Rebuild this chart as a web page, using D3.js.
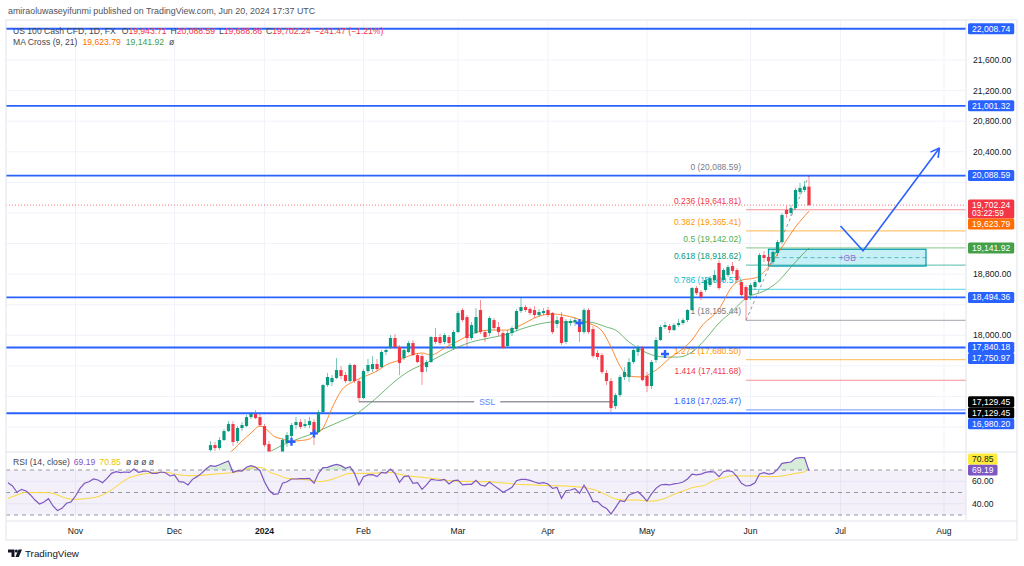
<!DOCTYPE html>
<html>
<head>
<meta charset="utf-8">
<script src="https://cdn.jsdelivr.net/npm/d3@7"></script>
<style>
  body { margin: 0; background: #fff; }
  svg { display: block; font-family: "Liberation Sans", Arial, sans-serif; }
</style>
</head>
<body>
<svg id="chart" width="1024" height="566"></svg>
<script>
// ---- data ----
const closedDays = ['2023-12-25', '2024-01-01', '2024-03-29'];
const monthKeys = ['2023-11', '2023-12', '2024-01', '2024-02', '2024-03', '2024-04', '2024-05', '2024-06', '2024-07', '2024-08'];
const monthLabels = ['Nov', 'Dec', '2024', 'Feb', 'Mar', 'Apr', 'May', 'Jun', 'Jul', 'Aug'];

const priceTicks = [16800, 17200, 17600, 18000, 18400, 18800, 19200, 19600, 20000, 20400, 20800, 21200, 21600];
const rsiTicks = [40, 60];

// daily candles [open, high, low, close] from 2023-12-13
const candleStart = '2023-12-13';
const ohlc = [
  [16499, 16617, 16460, 16564], [16564, 16604, 16486, 16525], [16525, 16669, 16499, 16630],
  [16630, 16773, 16617, 16747], [16747, 16878, 16734, 16839], [16839, 16878, 16551, 16604],
  [16617, 16813, 16590, 16787], [16787, 16865, 16747, 16826], [16813, 16957, 16800, 16930],
  [16930, 16996, 16904, 16970], [16970, 17022, 16904, 16917], [16930, 16970, 16800, 16826],
  [16813, 16839, 16538, 16564], [16577, 16617, 16368, 16433], [16420, 16473, 16290, 16342],
  [16342, 16433, 16211, 16355], [16368, 16656, 16355, 16630], [16591, 16734, 16538, 16695],
  [16682, 16852, 16656, 16826], [16826, 16930, 16773, 16865], [16865, 16904, 16773, 16800],
  [16813, 16904, 16787, 16839], [16826, 16930, 16787, 16878], [16865, 16904, 16564, 16708],
  [16734, 17022, 16721, 16996], [16996, 17362, 16983, 17349], [17349, 17506, 17323, 17454],
  [17388, 17480, 17336, 17441], [17441, 17702, 17428, 17545], [17545, 17598, 17428, 17467],
  [17480, 17519, 17375, 17401], [17401, 17637, 17388, 17611], [17611, 17624, 17375, 17401],
  [17401, 17427, 17129.45, 17179], [17179, 17558, 17166, 17532], [17532, 17690, 17506, 17611],
  [17558, 17728, 17519, 17624], [17624, 17690, 17532, 17558], [17584, 17807, 17571, 17781],
  [17781, 17846, 17741, 17807], [17846, 18003, 17820, 17964], [17964, 18016, 17820, 17846],
  [17846, 17872, 17480, 17637], [17702, 17833, 17676, 17807], [17781, 17925, 17768, 17898],
  [17898, 17938, 17728, 17741], [17741, 17768, 17637, 17650], [17728, 17755, 17349, 17519],
  [17584, 17676, 17519, 17650], [17650, 17990, 17637, 17977], [17977, 18094, 17885, 17912],
  [17977, 18016, 17872, 17898], [17912, 18029, 17885, 18003], [17977, 18003, 17872, 17898],
  [17833, 18068, 17807, 18042], [18042, 18317, 18029, 18291], [18330, 18356, 18173, 18199],
  [18238, 18265, 17846, 17964], [17964, 18173, 17938, 18134], [18029, 18356, 18016, 18238],
  [18330, 18461, 18016, 18042], [18042, 18068, 17912, 17977], [18029, 18252, 17990, 18225],
  [18199, 18225, 18068, 18095], [18108, 18173, 17990, 18042], [18029, 18055, 17820, 17833],
  [17859, 18068, 17833, 18029], [18029, 18121, 17990, 18095], [18081, 18343, 18055, 18317],
  [18317, 18500, 18291, 18369], [18369, 18395, 18304, 18330], [18343, 18369, 18265, 18291],
  [18330, 18382, 18225, 18265], [18265, 18343, 18238, 18304], [18291, 18356, 18265, 18317],
  [18330, 18369, 18238, 18265], [18291, 18304, 18016, 18042], [18147, 18252, 18095, 18199],
  [18238, 18304, 17872, 17898], [17912, 18212, 17885, 18186], [18160, 18212, 18121, 18186],
  [18173, 18238, 18121, 18199], [18173, 18199, 17912, 18042], [18042, 18356, 18016, 18330],
  [18330, 18356, 18016, 18042], [18081, 18121, 17702, 17728], [17768, 17807, 17676, 17715],
  [17741, 17768, 17493, 17519], [17506, 17545, 17349, 17401], [17401, 17440, 16996, 17048],
  [17074, 17244, 17035, 17218], [17218, 17480, 17192, 17454], [17454, 17584, 17414, 17519],
  [17454, 17702, 17388, 17650], [17650, 17833, 17624, 17807], [17781, 17872, 17728, 17833],
  [17833, 17859, 17401, 17414], [17467, 17519, 17257, 17336], [17336, 17676, 17297, 17650],
  [17676, 17977, 17637, 17938], [17938, 18134, 17925, 18108], [18108, 18173, 18081, 18134],
  [18121, 18147, 18029, 18068], [18068, 18160, 18055, 18134], [18134, 18212, 18108, 18160],
  [18160, 18225, 18134, 18199], [18199, 18343, 18173, 18330], [18330, 18631, 18317, 18618],
  [18618, 18644, 18526, 18552], [18566, 18592, 18461, 18500], [18592, 18761, 18566, 18722],
  [18657, 18774, 18631, 18748], [18722, 18853, 18696, 18788], [18945, 18984, 18592, 18618],
  [18722, 18879, 18696, 18853], [18788, 18919, 18761, 18892], [18906, 18958, 18801, 18840],
  [18853, 18879, 18696, 18722], [18696, 18722, 18500, 18526], [18631, 18657, 18195.44, 18461],
  [18526, 18683, 18461, 18657], [18631, 18722, 18592, 18696], [18696, 19076, 18683, 19049],
  [19049, 19102, 18958, 19010], [19023, 19062, 18919, 18971], [18958, 19115, 18932, 19089],
  [19076, 19246, 19036, 19219], [19219, 19599, 19193, 19573], [19638, 19690, 19534, 19586],
  [19599, 19703, 19560, 19664], [19664, 19926, 19638, 19900], [19873, 19991, 19834, 19926],
  [19900, 20017, 19873, 19943.71], [19943.71, 20088.59, 19688.86, 19702.24],
];

// MA Cross (9, 21), read at bar offsets from 2023-11-01
const ma9Bars = [33, 35, 37, 39, 41, 43, 44, 46, 48, 50, 52, 53, 55, 57, 59, 62, 65, 67, 69, 72, 74, 77, 79, 82, 85, 88, 92, 96, 99, 103, 106, 111, 114, 117, 119, 121, 123, 126, 128, 130, 132, 134, 137, 139, 143, 146, 148, 151, 154, 157, 160, 163];
const ma9Vals = [16420, 16499, 16617, 16721, 16813, 16740, 16682, 16643, 16617, 16623, 16643, 16695, 16787, 17048, 17271, 17401, 17480, 17532, 17611, 17676, 17728, 17768, 17741, 17833, 17925, 18016, 18068, 18068, 18134, 18251, 18278, 18225, 18160, 18055, 17846, 17598, 17467, 17454, 17506, 17590, 17700, 17781, 17938, 18108, 18343, 18644, 18722, 18749, 18892, 19154, 19416, 19623.79];
const ma21Bars = [41, 43, 46, 50, 53, 56, 59, 62, 65, 68, 71, 75, 78, 81, 85, 88, 92, 96, 99, 103, 106, 111, 114, 118, 120, 123, 127, 131, 134, 137, 140, 143, 146, 149, 153, 156, 159, 161, 163];
const ma21Vals = [16430, 16473, 16564, 16656, 16721, 16800, 16878, 16957, 17087, 17240, 17400, 17560, 17637, 17728, 17846, 17912, 17964, 18016, 18081, 18147, 18173, 18173, 18173, 18108, 18068, 17912, 17768, 17715, 17715, 17781, 17951, 18160, 18317, 18487, 18578, 18696, 18892, 19023, 19141.92];
const crossBars = [48, 53, 112, 131];
const crossVals = [16607, 16717, 18160, 17755];

// RSI (14, close), one value per bar from 2023-10-11
const rsiStart = '2023-10-11';
const rsi = [
  58.7, 55.8, 50.2, 52.8, 51.3, 47.8, 43.3, 39.8, 41.6, 44.5, 38.0, 33.9, 35.9, 40.4, 41.6,
  46.9, 53.7, 58.2, 59.6, 62.0, 61.1, 58.7, 62.6, 67.0, 68.5, 67.6, 68.2, 67.9, 70.9, 67.9,
  68.8, 69.1, 67.0, 67.0, 68.2, 67.6, 64.7, 65.6, 59.6, 59.3, 56.7, 61.7, 64.1, 67.0, 70.9,
  73.9, 73.3, 74.7, 76.5, 78.0, 67.9, 69.4, 69.1, 72.4, 73.9, 72.7, 69.4, 59.6, 52.2, 48.4,
  48.7, 58.2, 59.6, 62.0, 62.0, 62.3, 62.3, 62.6, 58.2, 67.0, 72.1, 72.4, 73.9, 75.0, 73.9,
  71.5, 73.0, 67.0, 56.7, 64.1, 65.6, 65.9, 64.1, 67.9, 67.3, 70.9, 67.0, 59.0, 64.1, 64.7,
  58.2, 58.7, 52.8, 56.7, 61.7, 61.1, 60.8, 61.7, 57.6, 60.5, 61.0, 56.7, 57.3, 57.3, 60.8,
  56.7, 55.8, 59.3, 56.1, 53.4, 50.2, 52.2, 54.6, 60.5,
  61.7, 61.7, 60.8, 59.3, 58.2, 58.7, 57.6, 53.7, 54.6, 44.8, 51.6, 52.2, 53.4, 49.3, 56.4,
  49.9, 41.9, 41.9, 38.0, 35.9, 30.9, 36.5, 42.7, 41.9, 47.8, 49.3, 50.7, 46.9, 42.4, 48.7,
  53.7, 56.7, 57.3, 56.7, 57.6, 58.2, 59.3, 62.0, 66.4, 65.6, 66.4, 67.9, 68.5, 68.2, 64.1,
  68.5, 69.4, 68.5, 64.1, 58.2, 55.8, 56.4, 58.7, 66.4, 67.6, 66.4, 67.0, 70.6, 75.9, 76.5,
  77.1, 80.4, 81.0, 81.0, 69.19,
];
const rsiMaBars = [-15, -13, -11, -9, -6, -4, -2, 0, 2, 5, 7, 9, 11, 14, 16, 18, 20, 22, 25, 27, 29, 31, 34, 36, 38, 40, 42, 43, 45, 47, 50, 53, 54, 57, 59, 61, 63, 65, 68, 70, 72, 74, 77, 79, 81, 83, 85, 88, 90, 92, 94, 96, 98, 102, 105, 109, 111, 114, 116, 118, 120, 122, 125, 127, 128, 131, 133, 135, 137, 140, 142, 144, 146, 148, 151, 153, 155, 157, 160, 162, 163];
const rsiMaVals = [44.8, 47.8, 50.2, 49.9, 49.9, 47.8, 44.8, 43.9, 44.5, 46.3, 49.9, 55.2, 61.1, 65.6, 67.0, 67.9, 67.9, 66.4, 65.0, 65.0, 65.6, 66.4, 67.3, 68.5, 70.6, 72.4, 71.5, 68.5, 65.6, 62.6, 61.7, 60.5, 59.6, 61.7, 64.7, 67.0, 67.0, 67.0, 67.6, 67.9, 66.1, 64.7, 63.5, 62.6, 61.7, 60.5, 59.9, 59.9, 59.6, 59.6, 58.7, 58.2, 57.3, 56.7, 56.1, 55.8, 55.2, 53.7, 51.6, 47.8, 44.2, 43.3, 43.3, 42.4, 42.4, 44.8, 48.4, 51.3, 54.3, 56.7, 61.1, 63.2, 65.0, 64.7, 64.7, 64.1, 64.1, 64.7, 67.0, 68.5, 70.85];

// drawings
const hLines = [22008.74, 21001.32, 20088.59, 18494.36, 17840.18, 16980.20];
const fibBars = [149, 163];
const fibPrices = [18195.44, 20088.59];
const fibLevels = [0, 0.236, 0.382, 0.5, 0.618, 0.786, 1, 1.272, 1.414, 1.618];
const sslBars = [63, 120];
const sslPrice = 17129.45;
const obBars = [154, 189];
const obPrices = [19125, 18905];
const arrowBars = [170, 175, 192];
const arrowPrices = [19430, 19105, 20450];
const tags = [
  [22008.74, 'line'], [21001.32, 'line'], [20088.59, 'line'], [19702.24, 'last'],
  [19623.79, 'ma9'], [19141.92, 'ma21'], [18494.36, 'line'], [17840.18, 'line'],
  [17750.97, 'line'], [17129.45, 'mark'], [17129.45, 'mark'], [16980.20, 'line'],
];
const countdown = '03:22:59';

// ---- layout ----
const frame = { left: 6, right: 1017, top: 20, bottom: 540 };
const plotRight = 966;
const mainPane = { top: 20, bottom: 452 };
const rsiPane = { top: 452, bottom: 521 };
const up = '#089981';
const down = '#f23645';
const fibColors = ['#787b86', '#f23645', '#ff9800', '#4caf50', '#089981', '#00bcd4', '#787b86', '#ff9800', '#f23645', '#2962ff'];
const tagStyle = {
  line: ['#2962ff', '#fff'], last: ['#f23645', '#fff'], ma9: ['#ff6d00', '#fff'],
  ma21: ['#43a047', '#fff'], mark: ['#000', '#fff'],
};
const fmt = d3.format(',.2f');
// round half-up to cents, like the platform's labels
const cents = (v) => Math.round(v * 100 + 0.01) / 100;

const tradingDays = (from, to) => {
  const out = [];
  const end = new Date(to + 'T00:00:00Z');
  for (let d = new Date(from + 'T00:00:00Z'); d <= end; d.setUTCDate(d.getUTCDate() + 1)) {
    const iso = d.toISOString().slice(0, 10);
    const wd = d.getUTCDay();
    if (wd > 0 && wd < 6 && !closedDays.includes(iso)) out.push(iso);
  }
  return out;
};
const days = tradingDays('2023-10-02', '2024-08-30');
const zero = days.indexOf('2023-11-01');
const bar = (iso) => days.indexOf(iso) - zero;
const monthBars = monthKeys.map((k) => days.findIndex((d) => d.startsWith(k)) - zero);

const x = d3.scaleLinear().domain([0, 193]).range([75.5, 944]);
const y = d3.scaleLinear().domain([18800, 21600]).range([274.1, 60]);
const yr = d3.scaleLinear().domain([30, 70]).range([515, 470]);

const svg = d3.select('#chart');
const defs = svg.append('defs');
defs.append('clipPath').attr('id', 'clipMain').append('rect')
  .attr('x', frame.left).attr('y', mainPane.top)
  .attr('width', plotRight - frame.left).attr('height', mainPane.bottom - mainPane.top);
defs.append('clipPath').attr('id', 'clipRsi').append('rect')
  .attr('x', frame.left).attr('y', rsiPane.top)
  .attr('width', plotRight - frame.left).attr('height', rsiPane.bottom - rsiPane.top);

const txt = (g, tx, ty, s, o = {}) => g.append('text')
  .attr('x', tx).attr('y', ty).attr('dy', '0.35em')
  .attr('font-size', o.size || 8.6)
  .attr('fill', o.fill || '#131722')
  .attr('text-anchor', o.anchor || 'start')
  .attr('font-weight', o.weight || null)
  .text(s);

// ---- grid ----
const grid = svg.append('g').attr('stroke', '#f0f3fa').attr('stroke-width', 1);
monthBars.forEach((b) => grid.append('line')
  .attr('x1', x(b)).attr('x2', x(b)).attr('y1', frame.top).attr('y2', rsiPane.bottom));
priceTicks.forEach((p) => grid.append('line')
  .attr('x1', frame.left).attr('x2', plotRight).attr('y1', y(p)).attr('y2', y(p)));
rsiTicks.forEach((v) => grid.append('line')
  .attr('x1', frame.left).attr('x2', plotRight).attr('y1', yr(v)).attr('y2', yr(v)));

// ---- main pane ----
const main = svg.append('g').attr('clip-path', 'url(#clipMain)');

// fib retracement / extension
const fibRange = fibPrices[1] - fibPrices[0];
const fibX0 = x(fibBars[0]);
fibLevels.forEach((lvl, i) => {
  const p = fibPrices[1] - lvl * fibRange;
  main.append('line')
    .attr('x1', fibX0).attr('x2', plotRight).attr('y1', y(p)).attr('y2', y(p))
    .attr('stroke', fibColors[i]).attr('stroke-opacity', 0.55).attr('stroke-width', 1.2);
  txt(main, fibX0 - 5, y(p) - 9, `${lvl} (${fmt(cents(p))})`, { anchor: 'end', fill: fibColors[i], size: 8.5 });
});
main.append('line')
  .attr('x1', x(fibBars[0])).attr('y1', y(fibPrices[0]))
  .attr('x2', x(fibBars[1])).attr('y2', y(fibPrices[1]))
  .attr('stroke', '#9598a1').attr('stroke-dasharray', '3 3');

// SSL
const sslMid = (x(sslBars[0]) + x(sslBars[1])) / 2;
const sslText = txt(main, sslMid, y(sslPrice), 'SSL', { anchor: 'middle', fill: '#5d83ff', size: 8.5 });
const gap = sslText.node().getComputedTextLength() / 2 + 5;
[[x(sslBars[0]), sslMid - gap], [sslMid + gap, x(sslBars[1])]].forEach(([a, b]) => main.append('line')
  .attr('x1', a).attr('x2', b).attr('y1', y(sslPrice)).attr('y2', y(sslPrice))
  .attr('stroke', '#9598a1').attr('stroke-width', 1.5));

// order block
const obTop = y(obPrices[0]);
const obBottom = y(obPrices[1]);
main.append('rect')
  .attr('x', x(obBars[0])).attr('y', obTop)
  .attr('width', x(obBars[1]) - x(obBars[0])).attr('height', obBottom - obTop)
  .attr('fill', 'rgba(0,188,212,0.22)').attr('stroke', '#0097a7').attr('stroke-width', 1.2);
main.append('line')
  .attr('x1', x(obBars[0])).attr('x2', x(obBars[1]))
  .attr('y1', (obTop + obBottom) / 2).attr('y2', (obTop + obBottom) / 2)
  .attr('stroke', '#0097a7').attr('stroke-opacity', 0.6).attr('stroke-dasharray', '4 3');
txt(main, (x(obBars[0]) + x(obBars[1])) / 2, (obTop + obBottom) / 2, '+OB', { anchor: 'middle', fill: '#a36ad6', size: 8.5 });

// horizontal levels
hLines.forEach((p) => main.append('line')
  .attr('x1', frame.left).attr('x2', plotRight).attr('y1', y(p)).attr('y2', y(p))
  .attr('stroke', '#2962ff').attr('stroke-width', 1.8));

// moving averages
const maLine = d3.line().x((d) => x(d[0])).y((d) => y(d[1])).curve(d3.curveMonotoneX);
main.append('path').datum(d3.zip(ma21Bars, ma21Vals)).attr('d', maLine)
  .attr('fill', 'none').attr('stroke', '#43a047').attr('stroke-opacity', 0.75).attr('stroke-width', 1);
main.append('path').datum(d3.zip(ma9Bars, ma9Vals)).attr('d', maLine)
  .attr('fill', 'none').attr('stroke', '#ff6d00').attr('stroke-opacity', 0.8).attr('stroke-width', 1);

// candles
const c0 = bar(candleStart);
const candles = main.append('g');
ohlc.forEach(([o, h, l, c], i) => {
  const cx = x(c0 + i);
  const col = c >= o ? up : down;
  candles.append('line').attr('x1', cx).attr('x2', cx).attr('y1', y(h)).attr('y2', y(l))
    .attr('stroke', col).attr('stroke-opacity', 0.55);
  candles.append('rect')
    .attr('x', cx - 1.6).attr('width', 3.2)
    .attr('y', Math.min(y(o), y(c))).attr('height', Math.max(1, Math.abs(y(o) - y(c))))
    .attr('fill', col);
});

// MA cross markers
crossBars.forEach((b, i) => {
  const cx = x(b);
  const cy = y(crossVals[i]);
  main.append('path').attr('d', `M${cx - 4},${cy}H${cx + 4}M${cx},${cy - 4}V${cy + 4}`)
    .attr('stroke', '#2962ff').attr('stroke-width', 2.4);
});

// projection arrow
const pts = arrowBars.map((b, i) => [x(b), y(arrowPrices[i])]);
main.append('path').attr('d', d3.line()(pts))
  .attr('fill', 'none').attr('stroke', '#2962ff').attr('stroke-width', 1.6);
const [ax, ay] = pts[pts.length - 1];
const [bx, by] = pts[pts.length - 2];
const ang = Math.atan2(ay - by, ax - bx);
[-0.5, 0.5].forEach((da) => main.append('line')
  .attr('x1', ax).attr('y1', ay)
  .attr('x2', ax - 10 * Math.cos(ang + da)).attr('y2', ay - 10 * Math.sin(ang + da))
  .attr('stroke', '#2962ff').attr('stroke-width', 1.6));

// last price line
const last = ohlc[ohlc.length - 1];
main.append('line')
  .attr('x1', frame.left).attr('x2', plotRight).attr('y1', y(last[3])).attr('y2', y(last[3]))
  .attr('stroke', down).attr('stroke-opacity', 0.7).attr('stroke-dasharray', '1 2');

// ---- RSI pane ----
const rp = svg.append('g').attr('clip-path', 'url(#clipRsi)');
rp.append('rect')
  .attr('x', frame.left).attr('width', plotRight - frame.left)
  .attr('y', yr(70)).attr('height', yr(30) - yr(70))
  .attr('fill', 'rgba(126,87,194,0.09)');
[70, 50, 30].forEach((v) => rp.append('line')
  .attr('x1', frame.left).attr('x2', plotRight).attr('y1', yr(v)).attr('y2', yr(v))
  .attr('stroke', '#9598a1').attr('stroke-dasharray', '4 4'));
const r0 = bar(rsiStart);
const rsiPts = rsi.map((v, i) => [r0 + i, v]);
rp.append('path').datum(rsiPts)
  .attr('d', d3.area().x((d) => x(d[0])).y0(yr(70)).y1((d) => yr(Math.max(70, d[1]))))
  .attr('fill', 'rgba(76,175,80,0.22)');
rp.append('path').datum(d3.zip(rsiMaBars, rsiMaVals))
  .attr('d', d3.line().x((d) => x(d[0])).y((d) => yr(d[1])).curve(d3.curveMonotoneX))
  .attr('fill', 'none').attr('stroke', '#fdd835').attr('stroke-width', 1);
rp.append('path').datum(rsiPts)
  .attr('d', d3.line().x((d) => x(d[0])).y((d) => yr(d[1])))
  .attr('fill', 'none').attr('stroke', '#7e57c2').attr('stroke-width', 1.2);

// ---- frame ----
const fr = svg.append('g').attr('stroke', '#e0e3eb').attr('fill', 'none');
fr.append('rect').attr('x', frame.left).attr('y', frame.top)
  .attr('width', frame.right - frame.left).attr('height', frame.bottom - frame.top);
[mainPane.bottom, rsiPane.bottom].forEach((v) => fr.append('line')
  .attr('x1', frame.left).attr('x2', frame.right).attr('y1', v).attr('y2', v));
fr.append('line').attr('x1', plotRight).attr('x2', plotRight).attr('y1', frame.top).attr('y2', rsiPane.bottom);

// ---- axes ----
const axis = svg.append('g');

// lay out the price tags first (stacked downward so they never collide)
const lastH = 19;
let prevBottom = -Infinity;
const tagLayout = tags.slice().sort((a, b) => b[0] - a[0]).map(([p, kind]) => {
  const h = kind === 'last' ? lastH : 11;
  const top = Math.max(y(p) - 5.5, prevBottom);
  prevBottom = top + h;
  return { p, kind, top, h };
});
const covered = (cy) => tagLayout.some((t) => cy + 5 > t.top && cy - 5 < t.top + t.h);

priceTicks.forEach((p) => {
  const cy = y(p);
  if (cy > mainPane.top + 5 && cy < mainPane.bottom - 5 && !covered(cy)) txt(axis, 973, cy, fmt(p));
});
rsiTicks.forEach((v) => txt(axis, 972, yr(v), fmt(v)));
monthBars.forEach((b, i) => txt(axis, x(b), 531, monthLabels[i], {
  anchor: 'middle', weight: monthLabels[i] === '2024' ? 'bold' : null,
}));

const tagBox = (top, h, bg, fg, lines) => {
  const g = axis.append('g');
  const r = g.append('rect').attr('x', 968).attr('y', top).attr('height', h).attr('fill', bg).attr('rx', 1.5);
  let w = 0;
  lines.forEach((s, i) => {
    const t = txt(g, 972, top + 5.3 + i * 8.6, s, { fill: fg, size: i ? 8.2 : 8.6 });
    w = Math.max(w, t.node().getComputedTextLength());
  });
  r.attr('width', w + 8);
};
tagLayout.forEach(({ p, kind, top, h }) => {
  const [bg, fg] = tagStyle[kind];
  tagBox(top, h, bg, fg, kind === 'last' ? [fmt(p), countdown] : [fmt(p)]);
});
const rsiLast = rsi[rsi.length - 1];
const rsiMaLast = rsiMaVals[rsiMaVals.length - 1];
const purpleTop = yr(rsiLast) - 6.5;
tagBox(purpleTop, 11, '#7e57c2', '#fff', [fmt(rsiLast)]);
tagBox(Math.min(yr(rsiMaLast) - 5.5, purpleTop - 11), 11, '#ffeb3b', '#131722', [fmt(rsiMaLast)]);

// ---- legends ----
const prevClose = ohlc[ohlc.length - 2][3];
const chg = last[3] - prevClose;
const leg = svg.append('text').attr('x', 13).attr('y', 31).attr('dy', '0.35em')
  .attr('font-size', 8.6).attr('fill', '#434651');
leg.append('tspan').text('US 100 Cash CFD, 1D, FX');
[['O', last[0]], ['H', last[1]], ['L', last[2]], ['C', last[3]]].forEach(([k, v], i) => {
  leg.append('tspan').attr('dx', i ? 4 : 6).text(k);
  leg.append('tspan').attr('fill', down).text(fmt(v));
});
leg.append('tspan').attr('dx', 4).attr('fill', down).text(`${fmt(cents(chg))} (${fmt((chg / prevClose) * 100)}%)`);

const leg2 = svg.append('text').attr('x', 13).attr('y', 42).attr('dy', '0.35em')
  .attr('font-size', 8.6).attr('fill', '#434651');
leg2.append('tspan').text('MA Cross (9, 21)');
leg2.append('tspan').attr('dx', 5).attr('fill', '#ff6d00').text(fmt(ma9Vals[ma9Vals.length - 1]));
leg2.append('tspan').attr('dx', 5).attr('fill', '#43a047').text(fmt(ma21Vals[ma21Vals.length - 1]));
leg2.append('tspan').attr('dx', 5).text('ø');

const leg3 = svg.append('text').attr('x', 13).attr('y', 462).attr('dy', '0.35em')
  .attr('font-size', 8.6).attr('fill', '#434651');
leg3.append('tspan').text('RSI (14, close)');
leg3.append('tspan').attr('dx', 4).attr('fill', '#7e57c2').text(fmt(rsiLast));
leg3.append('tspan').attr('dx', 4).attr('fill', '#e8c500').text(fmt(rsiMaLast));
leg3.append('tspan').attr('dx', 5).text('ø  ø  ø  ø');

txt(svg, 8, 11, 'amiraoluwaseyifunmi published on TradingView.com, Jun 20, 2024 17:37 UTC', { size: 8.9, fill: '#50535e' });

// TradingView mark
const logo = svg.append('g').attr('fill', '#131722');
logo.append('path').attr('d', 'M8,549.5h6.5v7.5h-3v-4.6h-3.5z');
logo.append('circle').attr('cx', 16.3).attr('cy', 551).attr('r', 1.5);
logo.append('path').attr('d', 'M18.5,549.5h3.5l-3.2,7.5h-3.4z');
txt(svg, 25, 553.5, 'TradingView', { size: 9.8, fill: '#131722' });
</script>
</body>
</html>
